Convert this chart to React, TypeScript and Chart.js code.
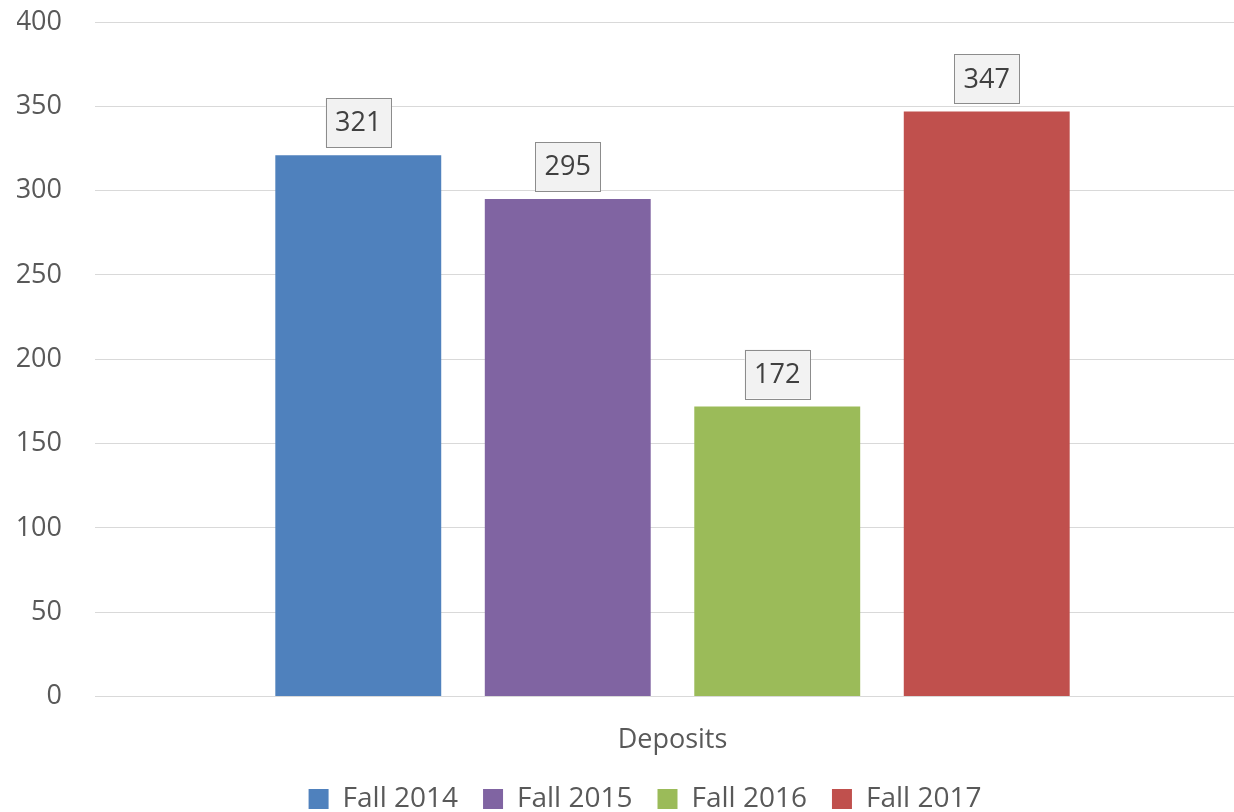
import React, { useEffect, useRef } from "react";
import { Chart, registerables } from "chart.js";

Chart.register(...registerables);

const categories = ["Deposits"];
const seriesNames = ["Fall 2014", "Fall 2015", "Fall 2016", "Fall 2017"];
const seriesValues = [321, 295, 172, 347];
const seriesColors = ["#4f81bd", "#8064a2", "#9bbb59", "#c0504d"];
const yTicks = [0, 50, 100, 150, 200, 250, 300, 350, 400];

const FONT = "'Open Sans', 'Noto Sans', sans-serif";
const FS = 27;

const labelBoxes = {
  id: "labelBoxes",
  afterDatasetsDraw(chart: any) {
    const ctx = chart.ctx;
    ctx.save();
    ctx.font = `${FS}px ${FONT}`;
    chart.data.datasets.forEach((ds: any, i: number) => {
      const meta = chart.getDatasetMeta(i);
      meta.data.forEach((el: any, j: number) => {
        const text = String(ds.data[j]);
        const tw = ctx.measureText(text).width;
        const w = tw + 19;
        const h = 49;
        const x = el.x - w / 2;
        const y = el.y - 8 - h;
        ctx.fillStyle = "#f2f2f2";
        ctx.fillRect(x, y, w, h);
        ctx.strokeStyle = "#8c8c8c";
        ctx.lineWidth = 1;
        ctx.strokeRect(Math.round(x) + 0.5, Math.round(y) + 0.5, Math.round(w), Math.round(h));
        ctx.fillStyle = "#404040";
        ctx.textAlign = "center";
        ctx.textBaseline = "middle";
        ctx.fillText(text, el.x, y + h / 2 + 1);
      });
    });
    ctx.restore();
  },
};

// extend the plot area past the right edge of the canvas, as in the reference
const widenArea = {
  id: "widenArea",
  afterLayout(chart: any) {
    const right = 1250;
    const xs = chart.scales.x;
    xs.right = right;
    xs.width = right - xs.left;
    xs.configure();
    chart.chartArea.right = right;
    chart.chartArea.width = right - chart.chartArea.left;
  },
};

export default function App() {
  const ref = useRef<HTMLCanvasElement>(null);
  useEffect(() => {
    if (!ref.current) return;
    const chart = new Chart(ref.current, {
      type: "bar",
      data: {
        labels: categories,
        datasets: seriesNames.map((name, i) => ({
          label: name,
          data: [seriesValues[i]],
          backgroundColor: seriesColors[i],
          borderWidth: 0,
          categoryPercentage: 0.7255,
          barPercentage: 0.792,
        })),
      },
      options: {
        animation: false,
        responsive: false,
        maintainAspectRatio: false,
        layout: { padding: { left: 17, right: -39, top: 22, bottom: -11 } },
        plugins: {
          legend: {
            position: "bottom",
            labels: {
              boxWidth: 20,
              boxHeight: 20,
              padding: 25,
              color: "#595959",
              font: { family: FONT, size: 28 },
            },
          },
          tooltip: { enabled: false },
        },
        scales: {
          x: {
            grid: { display: false },
            border: { display: true, color: "#d9d9d9", width: 1 },
            ticks: {
              color: "#595959",
              font: { family: FONT, size: FS },
              padding: 20,
            },
            afterFit: (scale: any) => {
              scale.height = scale.height - 17;
            },
          },
          y: {
            min: 0,
            max: 400,
            afterBuildTicks: (scale: any) => {
              scale.ticks = yTicks.map((v) => ({ value: v }));
            },
            grid: { color: "#d9d9d9", lineWidth: 1, drawTicks: false },
            border: { display: false },
            ticks: {
              color: "#595959",
              font: { family: FONT, size: FS },
              padding: 33,
            },
            afterFit: (scale: any) => {
              scale.width = 78;
              scale.paddingTop = 0;
              scale.paddingBottom = 0;
            },
          },
        },
      },
      plugins: [labelBoxes, widenArea],
    });
    return () => chart.destroy();
  }, []);
  return (
    <div style={{ position: "fixed", left: 0, top: 0, width: 1234, height: 812, background: "#fff" }}>
      <canvas ref={ref} width={1234} height={812} style={{ width: 1234, height: 812 }} />
    </div>
  );
}
